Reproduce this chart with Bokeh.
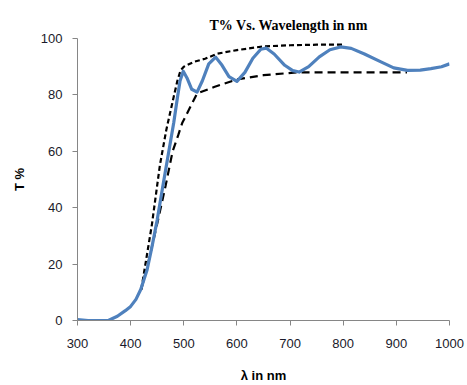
from bokeh.plotting import figure
from bokeh.models import Range1d, Title
from bokeh.embed import file_html
from bokeh.resources import INLINE

# Measured spectrum (T %) vs wavelength (nm)
wavelength = [300, 320, 340, 358, 375, 390, 400, 410, 419, 431, 440, 450, 460, 470,
              481, 488, 493, 499, 506, 515, 525, 535, 547, 560, 572, 585, 600, 615,
              630, 645, 655, 670, 690, 705, 717, 735, 755, 775, 795, 815, 840, 871,
              895, 921, 945, 965, 985, 1000]
transmittance = [0.3, 0, 0, 0, 1.5, 3.5, 5, 7.5, 11, 18, 26, 35.7, 47, 58,
                 70, 79, 85, 88.4, 86, 82, 81, 85, 91, 93.4, 90.5, 86.5, 84.8, 88,
                 93, 96.2, 96.6, 94.5, 90.5, 88.6, 88.1, 90, 93.5, 96, 97, 96.5, 94.5, 91.7,
                 89.6, 88.7, 88.8, 89.3, 90, 91]

# Upper envelope (short dashes)
upper_wl = [420, 440, 455, 467, 481, 488, 494, 500, 520, 540, 563, 600, 650, 700, 750, 801]
upper_t = [11, 34, 55, 67.5, 79.3, 85, 88.7, 90, 91.8, 92.8, 94.6, 95.9, 97.2, 97.6, 97.8, 97.8]

# Lower envelope (long dashes)
lower_wl = [420, 435, 452, 466, 479, 490, 497, 505, 513, 525, 557, 600, 650, 714, 800, 920]
lower_t = [11, 22, 36, 48, 60, 66, 70, 73, 76, 80.5, 82.8, 85.5, 87, 88, 88, 88]

x_ticks = [300, 400, 500, 600, 700, 800, 900, 1000]
y_ticks = [0, 20, 40, 60, 80, 100]

p = figure(width=467, height=385, output_backend="svg", toolbar_location=None,
           x_range=Range1d(300, 1000), y_range=Range1d(0, 100),
           min_border_left=77, min_border_right=18, min_border_top=38, min_border_bottom=64)

p.outline_line_color = None
p.xgrid.visible = False
p.ygrid.visible = False

p.line(lower_wl, lower_t, line_color="black", line_width=2.2, line_dash="8 5")
p.line(upper_wl, upper_t, line_color="black", line_width=2.2, line_dash="5 3")
p.line(wavelength, transmittance, line_color="#4F81BD", line_width=3.2, line_join="round")

for ax in (p.xaxis[0], p.yaxis[0]):
    ax.axis_line_color = "#868686"
    ax.major_tick_line_color = "#868686"
    ax.major_tick_out = 5
    ax.major_tick_in = 0
    ax.minor_tick_line_color = None
    ax.major_label_text_font = "Liberation Sans"
    ax.major_label_text_font_size = "13px"
    ax.major_label_text_color = "#1a1a2a"
    ax.axis_label_text_font = "Liberation Sans"
    ax.axis_label_text_font_size = "13px"
    ax.axis_label_text_font_style = "bold"
    ax.axis_label_text_color = "black"

p.xaxis.ticker = x_ticks
p.yaxis.ticker = y_ticks
p.xaxis.axis_label = "λ in nm"
p.yaxis.axis_label = "T %"
p.xaxis.major_label_standoff = 13
p.yaxis.major_label_standoff = 10
p.xaxis.axis_label_standoff = 17
p.yaxis.axis_label_standoff = 11

t = Title(text="T% Vs. Wavelength in nm", align="left", offset=132,
          text_font="Liberation Serif", text_font_size="14px", text_font_style="bold",
          text_color="black", standoff=12)
p.add_layout(t, "above")

open("out.html", "w").write(file_html(p, INLINE))
